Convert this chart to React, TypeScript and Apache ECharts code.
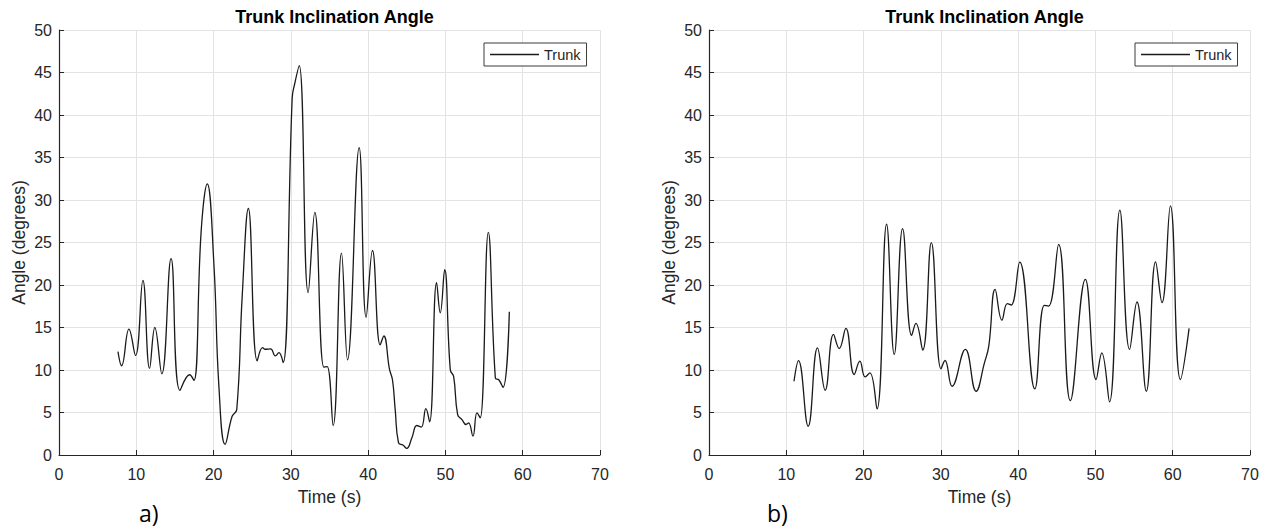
import React, { useEffect, useRef } from "react";
import * as echarts from "echarts";

const chartTitle = "Trunk Inclination Angle";
const seriesName = "Trunk";
const xTicks = [0, 10, 20, 30, 40, 50, 60, 70];
const yTicks = [0, 5, 10, 15, 20, 25, 30, 35, 40, 45, 50];

const leftTime = [
  7.63, 8.1, 9.05, 9.9, 10.86, 11.72, 12.4, 13.3, 14.5, 15.65, 16.9, 17.46, 18.4, 19.18, 20.04, 20.69,
  21.5, 22.4, 23.0, 23.7, 24.5, 25.65, 26.34, 26.7, 27.37, 28.0, 28.45, 29.0, 30.17, 30.47, 31.08,
  32.24, 33.1, 34.27, 34.7, 35.47, 36.55, 37.33, 38.84, 39.74, 40.56, 41.56, 42.03, 42.76, 43.15,
  43.5, 43.93, 44.5, 45.0, 45.66, 46.3, 46.87, 47.47, 47.95, 48.86, 49.33, 49.9, 50.63, 51.06, 51.58,
  52.14, 52.66, 53.0, 53.56, 54.08, 54.5, 55.55, 56.46, 56.9, 57.45, 58.27,
];
const leftAngle = [
  12.17, 10.5, 14.8, 11.7, 20.55, 10.2, 15.0, 9.55, 23.1, 7.6, 9.44, 8.78, 26.4, 31.9, 22.5, 8.07,
  1.25, 4.56, 5.34, 18.6, 29.0, 11.08, 12.64, 12.44, 12.48, 11.66, 12.05, 10.88, 42.0, 43.56, 45.8,
  19.1, 28.55, 10.34, 10.4, 3.47, 23.75, 11.2, 36.15, 16.2, 24.06, 12.95, 14.0, 10.1, 8.85,
  5.34, 1.44, 1.17, 0.78, 2.03, 3.47, 3.28, 5.46, 3.9, 20.28, 16.73, 21.8, 10.02, 9.24, 4.76,
  4.17, 3.59, 3.78, 2.22, 4.95, 4.37, 26.2, 9.05, 8.85, 7.96, 16.85,
];

const rightTime = [
  11.0, 11.58, 12.83, 14.04, 15.03, 16.11, 16.85, 17.71, 18.79, 19.52, 20.2, 20.82, 21.73, 22.98,
  23.97, 25.05, 26.22, 26.78, 27.65, 28.77, 30.02, 30.54, 31.45, 33.17, 34.56, 35.64, 36.2, 37.02,
  37.9, 38.6, 39.1, 40.2, 42.16, 43.38, 43.94, 45.24, 46.75, 48.7, 50.09, 50.82, 51.82, 53.16,
  54.42, 55.37, 56.58, 57.79, 58.61, 59.7, 61.0, 62.12,
];
const rightAngle = [
  8.68, 11.1, 3.38, 12.6, 7.62, 14.18, 12.53, 14.9, 9.47, 11.04, 9.19, 9.67, 5.42, 27.15,
  11.83, 26.64, 14.07, 15.48, 12.34, 24.99, 10.14, 11.12, 8.09, 12.42, 7.5, 10.84, 12.8, 19.49,
  15.87, 17.8, 17.65, 22.7, 7.78, 17.6, 17.52, 24.79, 6.4, 20.67, 8.88, 12.02, 6.25, 28.8,
  12.42, 18.0, 7.5, 22.71, 17.92, 29.31, 8.88, 14.89,
];

const panelLabels = ["a)", "b)"];

const AXIS_COLOR = "#262626";
const GRID_COLOR = "#e3e3e3";
const FONT = "'Liberation Sans', Arial, Helvetica, sans-serif";

function zip(xs: number[], ys: number[]) {
  return xs.map((x, i) => [x, ys[i]]);
}

function xAxis(gridIndex: number) {
  return {
    type: "value",
    gridIndex,
    min: xTicks[0],
    max: xTicks[xTicks.length - 1],
    interval: 10,
    name: "Time (s)",
    nameLocation: "middle",
    nameGap: 33,
    nameTextStyle: { color: AXIS_COLOR, fontSize: 17.5, fontFamily: FONT },
    axisLine: { show: true, onZero: false, lineStyle: { color: AXIS_COLOR, width: 1.2 } },
    axisTick: { show: true, inside: true, length: 5, lineStyle: { color: AXIS_COLOR } },
    axisLabel: { color: AXIS_COLOR, fontSize: 16, fontFamily: FONT, margin: 11 },
    splitLine: { show: true, lineStyle: { color: GRID_COLOR, width: 1 } },
  };
}

function yAxis(gridIndex: number) {
  return {
    type: "value",
    gridIndex,
    min: yTicks[0],
    max: yTicks[yTicks.length - 1],
    interval: 5,
    name: "Angle (degrees)",
    nameLocation: "middle",
    nameGap: 31,
    nameTextStyle: { color: AXIS_COLOR, fontSize: 17.5, fontFamily: FONT },
    axisLine: { show: true, onZero: false, lineStyle: { color: AXIS_COLOR, width: 1.2 } },
    axisTick: { show: true, inside: true, length: 5, lineStyle: { color: AXIS_COLOR } },
    axisLabel: { color: AXIS_COLOR, fontSize: 16, fontFamily: FONT, margin: 7 },
    splitLine: { show: true, lineStyle: { color: GRID_COLOR, width: 1 } },
  };
}

function lineSeries(idx: number, data: number[][]) {
  return {
    type: "line",
    name: seriesName,
    xAxisIndex: idx,
    yAxisIndex: idx,
    data,
    smooth: 0.45,
    symbol: "none",
    showSymbol: false,
    lineStyle: { color: "#1a1a1a", width: 1.3 },
    itemStyle: { color: "#1a1a1a" },
  };
}

function legend(left: number) {
  return {
    data: [{ name: seriesName, icon: "path://M0,0 L49,0 L49,1.3 L0,1.3 Z" }],
    left,
    top: 43,
    orient: "horizontal",
    itemWidth: 49,
    itemHeight: 14,
    padding: [4, 6, 4, 6],
    borderColor: "#3a3a3a",
    borderWidth: 1,
    backgroundColor: "#ffffff",
    selectedMode: false,
    textStyle: { color: AXIS_COLOR, fontSize: 14.5, fontFamily: FONT, padding: [0, 0, 0, 0] },
  };
}

export default function App() {
  const ref = useRef<HTMLDivElement>(null);
  useEffect(() => {
    document.body.style.margin = "0";
    if (!ref.current) return;
    const chart = echarts.init(ref.current, undefined, { renderer: "svg" });
    chart.setOption({
      animation: false,
      backgroundColor: "#ffffff",
      title: [
        {
          text: chartTitle,
          left: 329.5,
          top: 3,
          textAlign: "center",
          textStyle: { color: "#000", fontSize: 18, fontWeight: "bold", fontFamily: FONT },
        },
        {
          text: chartTitle,
          left: 979.5,
          top: 3,
          textAlign: "center",
          textStyle: { color: "#000", fontSize: 18, fontWeight: "bold", fontFamily: FONT },
        },
      ],
      grid: [
        { left: 59, top: 30, width: 541, height: 425, containLabel: false },
        { left: 709, top: 30, width: 541, height: 425, containLabel: false },
      ],
      xAxis: [xAxis(0), xAxis(1)],
      yAxis: [yAxis(0), yAxis(1)],
      legend: [legend(484), legend(1135)],
      series: [lineSeries(0, zip(leftTime, leftAngle)), lineSeries(1, zip(rightTime, rightAngle))],
      graphic: [
        {
          type: "text",
          left: 139,
          top: 501,
          style: { text: panelLabels[0], fill: "#000", fontSize: 23, fontFamily: "'Open Sans', sans-serif" },
        },
        {
          type: "text",
          left: 767,
          top: 501,
          style: { text: panelLabels[1], fill: "#000", fontSize: 23, fontFamily: "'Open Sans', sans-serif" },
        },
      ],
    });
    return () => chart.dispose();
  }, []);
  return (
    <div
      ref={ref}
      style={{ position: "fixed", left: 0, top: 0, width: 1272, height: 532, background: "#fff" }}
    />
  );
}
